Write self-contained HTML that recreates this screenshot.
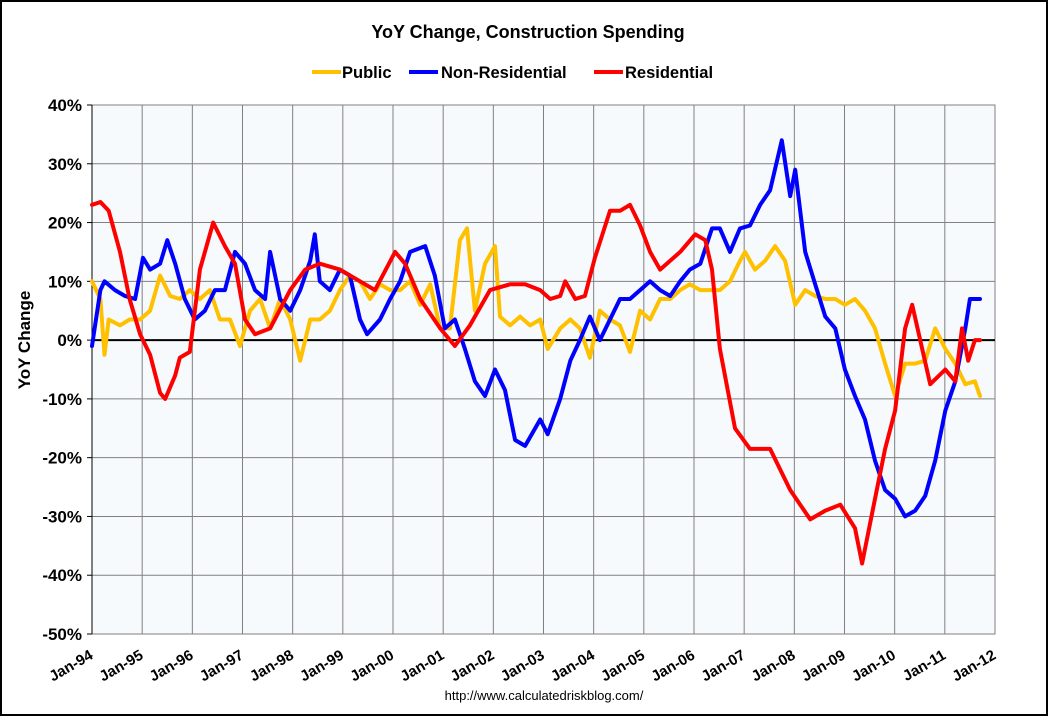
<!DOCTYPE html>
<html><head><meta charset="utf-8"><style>
body{margin:0;background:#fff;}
svg{display:block;font-family:"Liberation Sans",Arial,sans-serif;}
</style></head><body>
<svg id="chart" width="1049" height="717" viewBox="0 0 1049 717">
<rect x="1" y="1" width="1046" height="714" fill="#fff" stroke="#000" stroke-width="2"/>
<text x="528" y="38" text-anchor="middle" font-size="18" font-weight="bold">YoY Change,  Construction Spending</text>
<g font-size="16.5" font-weight="bold">
<g><line x1="312" y1="72" x2="341" y2="72" stroke="#ffc000" stroke-width="4"/><text x="342" y="78">Public</text></g>
<g><line x1="409" y1="72" x2="438" y2="72" stroke="#0000ff" stroke-width="4"/><text x="441" y="78">Non-Residential</text></g>
<g><line x1="594" y1="72" x2="623" y2="72" stroke="#ff0000" stroke-width="4"/><text x="625" y="78">Residential</text></g>
</g>
<text transform="translate(30,340) rotate(-90)" text-anchor="middle" font-size="17" font-weight="bold">YoY Change</text>
<text x="544" y="700" text-anchor="middle" font-size="13">http://www.calculatedriskblog.com/</text>
<g id="plot"></g>
</svg>
<script>
const xTickLabels=["Jan-94","Jan-95","Jan-96","Jan-97","Jan-98","Jan-99","Jan-00","Jan-01","Jan-02","Jan-03","Jan-04","Jan-05","Jan-06","Jan-07","Jan-08","Jan-09","Jan-10","Jan-11","Jan-12"];
const yTicks=[40,30,20,10,0,-10,-20,-30,-40,-50];
const resMonths=[0,2,4,6.7,9,11.5,13.9,16.3,17.5,19.9,21,23.4,25.8,29,31.8,34.2,36.6,39,42.6,47.4,51,54.5,59.3,64.1,67.7,72.5,74.9,78.5,83.3,86.8,90.4,95.2,100,103.6,107.2,109.6,112,113.2,115.6,117.9,120.3,123.9,126.3,128.7,131.1,133.5,135.9,140.7,144.3,146.7,148.3,150.2,153.8,157.4,162.2,167,169.4,171.8,175.4,179,182.5,184.2,187.3,189.7,192.1,194.5,196.2,198.1,200.5,204.1,206.5,208.1,209.6,211.2,212.4];
const resValues=[23,23.5,22,15,7,1,-2.5,-9,-10,-6,-3,-2,12,20,16,13,3.5,1,2,8.5,12,13,12,10,8.5,15,13,7,2,-1,2.5,8.5,9.5,9.5,8.5,7,7.5,10,7,7.5,14,22,22,23,19.5,15,12,15,18,17,12,-1.5,-15,-18.5,-18.5,-25.5,-28,-30.5,-29,-28,-32,-38,-27,-18.5,-12,2,6,0,-7.5,-5,-7,2,-3.5,0,0];
const nonMonths=[0,2,3,5.5,7.9,10.3,12.2,13.9,16.3,18,19.9,22.2,24.6,27,29.4,31.8,34.2,36.6,39,41.4,42.6,45,47.4,49.8,52.2,53.3,54.5,56.9,59.3,61.7,64.1,65.8,68.9,71.3,73.7,76.1,79.7,82,84.4,86.8,89.2,91.6,94,96.4,98.8,101.2,103.6,107.2,109,112,114.4,116.7,119.1,121.5,123.9,126.3,128.7,131.1,133.5,135.9,138.3,140.7,143,145.5,148.3,150.2,152.6,155,157.4,159.8,162.2,165,167,168.2,170.6,173,175.4,177.8,180.1,182.5,184.9,187.3,189.7,192.1,194.5,196.9,199.3,201.7,204.1,206.5,208.9,210,212.4];
const nonValues=[-1,8.5,10,8.5,7.5,7,14,12,13,17,13,7,3.5,5,8.5,8.5,15,13,8.5,7,15,7,5,8.5,13.5,18,10,8.5,12,11,3.5,1,3.5,7,10,15,16,11,2,3.5,-1.5,-7,-9.5,-5,-8.5,-17,-18,-13.5,-16,-10,-3.5,0,4,0,3.5,7,7,8.5,10,8.5,7.5,10,12,13,19,19,15,19,19.5,23,25.5,34,24.5,29,15,9.5,4,2,-5,-9.5,-13.5,-20.5,-25.5,-27,-30,-29,-26.5,-20.5,-12,-7,2,7,7];
const pubMonths=[0,2,3,4,6.7,9,11.5,13.9,16.3,18.7,21,23.4,25.8,28.2,30.6,33,35.4,37.8,40.2,42.6,45,47.4,49.8,52.2,54.5,56.9,59.3,61.7,64.1,66.5,68.9,71.3,73.7,76.1,78.5,80.9,83.3,85.6,88,89.7,91.6,94,96.4,97.6,100,102.4,104.8,107.2,109,112,114.4,116.7,119.1,121.5,123.9,126.3,128.7,131.1,133.5,135.9,138.3,140.7,143,145.5,147.8,150.2,152.6,155,156.2,158.6,161,163.4,165.8,168.2,170.6,173,175.4,177.8,180.1,182.5,184.9,187.3,189.7,192.1,194.5,196.9,199.3,201.7,204.1,206.5,208.9,211.2,212.4];
const pubValues=[10,7,-2.5,3.5,2.5,3.5,3.5,5,11,7.5,7,8.5,7,8.5,3.5,3.5,-1,5,7,2,7,3.5,-3.5,3.5,3.5,5,8.5,11,10,7,9.5,8.5,8.5,10,6,9.5,2,2,17,19,5,13,16,4,2.5,4,2.5,3.5,-1.5,2,3.5,2,-3,5,3.5,2.5,-2,5,3.5,7,7,8.5,9.5,8.5,8.5,8.5,10,13.5,15,12,13.5,16,13.5,6,8.5,7.5,7,7,6,7,5,2,-4,-9.5,-4,-4,-3.5,2,-1.5,-4,-7.5,-7,-9.5];

const NS="http://www.w3.org/2000/svg";
const X0=92,X1=995,Y0=105,Y1=634;
const xScale=m=>X0+(m/216)*(X1-X0);
const yScale=v=>Y0+(40-v)/90*(Y1-Y0);
const plot=document.getElementById('plot');
function mk(tag,attrs,parent){const e=document.createElementNS(NS,tag);for(const k in attrs)e.setAttribute(k,attrs[k]);(parent||plot).appendChild(e);return e;}

const bg=mk('rect',{x:X0,y:Y0,width:X1-X0,height:Y1-Y0,fill:'#f7fafd',stroke:'#808080','stroke-width':1});



yTicks.forEach(v=>{
  const y=yScale(v);
  const g=mk('line',{x1:X0,x2:X1,y1:y,y2:y,stroke:'#808080','stroke-width':1});
  
  
  mk('line',{x1:X0-5,x2:X0,y1:y,y2:y,stroke:'#000'});
  const t=mk('text',{x:X0-10,y:y+6,'text-anchor':'end','font-size':17,'font-weight':'bold'});
  t.textContent=v+'%';
  
  
});
xTickLabels.forEach((lab,i)=>{
  const x=xScale(i*12);
  const g=mk('line',{x1:x,x2:x,y1:Y0,y2:Y1,stroke:'#808080','stroke-width':1});
  
  
  const t=mk('text',{x:0,y:0,'text-anchor':'end','font-size':15,'font-weight':'bold',transform:`translate(${x+2},${Y1+24}) rotate(-30)`});
  t.textContent=lab;
  
  
});
const zl=mk('line',{x1:X0,x2:X1,y1:yScale(0),y2:yScale(0),stroke:'#000','stroke-width':2});


mk('line',{x1:X0,x2:X0,y1:Y0,y2:Y1,stroke:'#000'});

function series(ms,vs,color,name){
  const d=ms.map((m,i)=>(i?'L':'M')+xScale(m).toFixed(1)+','+yScale(vs[i]).toFixed(1)).join('');
  const p=mk('path',{d:d,fill:'none',stroke:color,'stroke-width':4,'stroke-linejoin':'round','stroke-linecap':'round'});
  
  
}
series(pubMonths,pubValues,'#ffc000','public-line');
series(nonMonths,nonValues,'#0000ff','non-residential-line');
series(resMonths,resValues,'#ff0000','residential-line');
</script>
</body></html>
